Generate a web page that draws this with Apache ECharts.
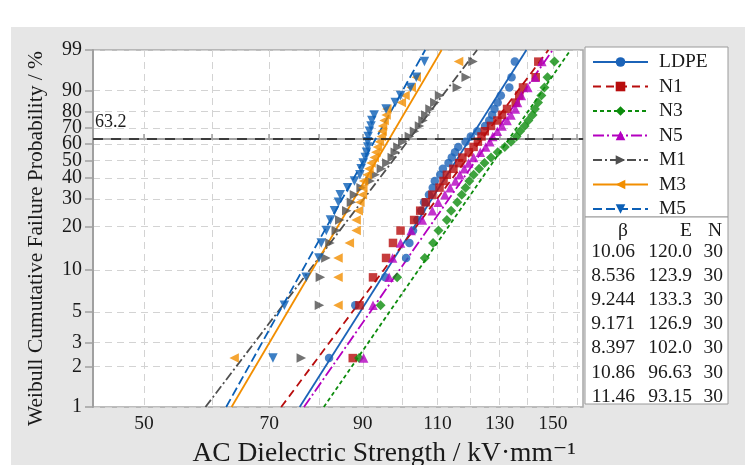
<!DOCTYPE html>
<html>
<head>
<meta charset="utf-8">
<script src="https://cdn.jsdelivr.net/npm/echarts@6/dist/echarts.min.js"></script>
<style>
  html, body { margin: 0; padding: 0; background: #fff; }
  #main { width: 745px; height: 465px; }
</style>
</head>
<body>
<div id="main"></div>
<script>
// 数据  (kV/mm, 读图估计)
var names = ['LDPE', 'N1', 'N3', 'N5', 'M1', 'M3', 'M5'];
// 中位秩  失效概率 %
var rankPct = [2.30, 5.59, 8.88, 12.17, 15.46, 18.75, 22.04, 25.33, 28.62, 31.91,
               35.20, 38.49, 41.78, 45.07, 48.36, 51.64, 54.93, 58.22, 61.51, 64.80,
               68.09, 71.38, 74.67, 77.96, 81.25, 84.54, 87.83, 91.12, 94.41, 97.70];
var ldpe = [82.2, 88.2, 95.6, 101.1, 102.0, 103.0, 104.2, 105.3, 106.1, 107.5,
            108.6, 109.2, 110.8, 111.6, 113.3, 114.3, 115.3, 116.3, 118.6, 120.3,
            122.4, 125.0, 126.4, 127.4, 128.2, 129.3, 130.4, 133.4, 134.2, 135.4];
var n1 = [87.6, 89.2, 92.5, 95.8, 97.6, 99.6, 103.3, 105.0, 106.6, 108.5,
          110.6, 111.8, 112.8, 114.8, 116.6, 117.6, 119.6, 121.2, 122.6, 123.8,
          124.9, 127.0, 129.2, 130.8, 132.6, 135.7, 137.0, 138.4, 143.2, 144.2];
var n3 = [89.1, 94.4, 98.7, 106.3, 108.7, 110.3, 112.8, 114.1, 116.0, 117.4,
          118.6, 119.8, 121.2, 123.0, 124.8, 127.0, 129.3, 131.8, 134.0, 136.0,
          137.3, 139.0, 140.4, 142.0, 142.9, 144.1, 145.4, 146.6, 147.8, 150.6];
var n5 = [90.2, 92.5, 96.6, 97.5, 99.6, 102.5, 105.6, 108.5, 110.2, 112.2,
          113.8, 115.4, 116.8, 118.2, 119.6, 121.2, 123.4, 125.2, 126.6, 127.6,
          129.2, 130.8, 132.6, 134.0, 135.6, 136.4, 137.8, 140.2, 143.0, 145.6];
var m1 = [76.3, 80.1, 80.3, 81.5, 82.4, 83.8, 84.6, 86.2, 87.3, 88.0,
          89.6, 91.8, 93.0, 94.6, 96.0, 97.4, 98.2, 98.9, 100.2, 102.0,
          103.4, 104.8, 105.8, 106.6, 107.8, 109.2, 110.6, 116.0, 118.8, 121.0];
var m3 = [63.7, 84.2, 84.2, 84.2, 86.8, 88.4, 88.4, 88.9, 89.3, 89.9,
          90.0, 90.2, 91.1, 91.5, 92.0, 92.8, 93.2, 93.6, 94.1, 94.6,
          94.8, 94.9, 95.3, 95.8, 96.0, 99.8, 100.8, 102.5, 103.9, 116.4];
var m5 = [70.7, 72.9, 77.3, 80.0, 80.5, 81.6, 82.5, 83.4, 84.3, 84.7,
          86.4, 88.0, 89.3, 89.6, 90.1, 90.6, 90.9, 91.2, 91.2, 91.3,
          91.6, 92.0, 92.2, 92.8, 95.8, 98.2, 99.6, 102.3, 103.9, 106.2];
// 拟合参数  表格
var betas = [10.06, 8.536, 9.244, 9.171, 8.397, 10.86, 11.46];
var etas = [120.0, 123.9, 133.3, 126.9, 102.0, 96.63, 93.15];
var counts = [30, 30, 30, 30, 30, 30, 30];
// 刻度
var yTickPct = [1, 2, 3, 5, 10, 20, 30, 40, 50, 60, 70, 80, 90, 99];
var xLabelVals = [50, 70, 90, 110, 130, 150];
var xTickVals = [50, 60, 70, 80, 90, 100, 110, 120, 130, 140, 150, 160];
var refPct = 63.2;

var points = [ldpe, n1, n3, n5, m1, m3, m5];
var colors = ['#1b63b8', '#b80d0d', '#0c8c0c', '#b400c0', '#4f4f4f', '#f28e00', '#0b5fb6'];
var dashes = ['solid', [8, 5], [4, 3], [11, 3, 2, 3], [9, 3, 2, 3], 'solid', [9, 4]];
var symbols = ['circle', 'rect', 'diamond', 'triangle',
               'path://M0,0L10,5L0,10Z', 'path://M10,0L0,5L10,10Z', 'path://M0,0L10,0L5,9Z'];
var sizes = [8.5, 8.5, 10, 9.5, 9.5, 9.5, 9.5];

var FONT = "'Liberation Serif', 'DejaVu Serif', serif";
// Weibull 纵坐标变换
function wy(p) { return Math.log(-Math.log(1 - p / 100)); }
var yMin = wy(1), yMax = wy(99);
var yTicks = yTickPct.map(wy);

var series = [];
// 拟合直线
names.forEach(function (n, i) {
    var s = {
        name: n,
        type: 'line',
        symbol: symbols[i],
        showSymbol: false,
        color: colors[i],
        lineStyle: { color: colors[i], width: 1.8, type: dashes[i] },
        data: [
            [etas[i] * Math.exp(yMin / betas[i]), yMin],
            [etas[i] * Math.exp(yMax / betas[i]), yMax]
        ],
        z: 3
    };
    if (i === 0) {
        s.markLine = {
            silent: true,
            symbol: 'none',
            lineStyle: { color: '#1a1a1a', type: [10, 8], width: 1.7 },
            label: {
                show: true, position: 'insideStartTop', formatter: String(refPct),
                fontFamily: FONT, fontSize: 18, color: '#1a1a1a', distance: [2, 8]
            },
            data: [{ yAxis: wy(refPct) }]
        };
    }
    series.push(s);
});
// 数据点
names.forEach(function (n, i) {
    series.push({
        name: n,
        type: 'scatter',
        symbol: symbols[i],
        symbolSize: sizes[i],
        itemStyle: { color: colors[i] },
        data: points[i].map(function (x, k) { return [x, wy(rankPct[k])]; }),
        z: 4
    });
});

// 右下  参数表
var table = [];
var rowY0 = 251.5, rowH = 24.2;
[['β', 628], ['E', 692], ['N', 722]].forEach(function (h) {
    table.push({ type: 'text', z: 5, style: { text: h[0], x: h[1], y: 231, align: 'right', verticalAlign: 'middle',
        fontFamily: FONT, fontSize: 19.5, fill: '#1a1a1a' } });
});
betas.forEach(function (b, i) {
    var y = rowY0 + i * rowH;
    [[b.toPrecision(4), 635], [etas[i].toPrecision(4), 692], [String(counts[i]), 723]].forEach(function (c) {
        table.push({ type: 'text', z: 5, style: { text: c[0], x: c[1], y: y, align: 'right', verticalAlign: 'middle',
            fontFamily: FONT, fontSize: 19.5, fill: '#1a1a1a' } });
    });
});

var option = {
    backgroundColor: '#fff',
    animation: false,
    grid: {
        left: 93, right: 162, top: 50, bottom: 58,
        outerBoundsMode: 'none',
        containLabel: false,
        show: true, backgroundColor: '#fff', borderColor: '#a8a8a8', borderWidth: 1.5
    },
    legend: {
        orient: 'vertical',
        left: 592, top: 52,
        padding: 0,
        z: 10,
        itemWidth: 55, itemHeight: 12, itemGap: 4.5,
        data: names,
        textStyle: { fontFamily: FONT, fontSize: 19.5, color: '#1a1a1a', lineHeight: 20, padding: [0, 0, 0, 6] }
    },
    xAxis: {
        type: 'log',
        logBase: 10,
        min: 43.6,
        max: 162.6,
        name: 'AC Dielectric Strength / kV·mm⁻¹',
        nameLocation: 'middle',
        nameGap: 33,
        nameTextStyle: { fontFamily: FONT, fontSize: 27.5, color: '#1a1a1a', padding: [0, 0, 0, 92] },
        axisLine: { show: true, lineStyle: { color: '#a0a0a0', width: 2 } },
        axisTick: { show: true, inside: true, length: 5, customValues: xTickVals, lineStyle: { color: '#a0a0a0', width: 1.5 } },
        axisLabel: { customValues: xLabelVals, fontFamily: FONT, fontSize: 19.5, color: '#1a1a1a', margin: 7 },
        splitLine: { show: true, lineStyle: { color: '#d3d3d3', type: [7, 5], width: 1 } },
        minorTick: { show: false },
        minorSplitLine: { show: false }
    },
    yAxis: {
        type: 'value',
        min: yMin,
        max: yMax,
        name: 'Weibull Cumutative Failure Probability / %',
        nameLocation: 'middle',
        nameGap: 46,
        nameTextStyle: { fontFamily: FONT, fontSize: 21.5, color: '#1a1a1a', padding: [0, 20, 0, 0] },
        axisLine: { show: true, lineStyle: { color: '#a0a0a0', width: 2 } },
        axisTick: { show: true, length: 8, customValues: yTicks, lineStyle: { color: '#a0a0a0', width: 1.5 } },
        axisLabel: {
            customValues: yTicks,
            fontFamily: FONT, fontSize: 20, color: '#1a1a1a', margin: 11,
            formatter: function (v) { return Math.round((1 - Math.exp(-Math.exp(v))) * 100); }
        },
        splitLine: { show: true, lineStyle: { color: '#d3d3d3', type: [7, 5], width: 1 } }
    },
    graphic: [
        { type: 'rect', z: -100, shape: { x: 11, y: 27, width: 734, height: 438 }, style: { fill: '#e6e6e6' } },
        { type: 'rect', z: 1, shape: { x: 585, y: 47, width: 143, height: 170 }, style: { fill: '#fff', stroke: '#9a9a9a', lineWidth: 1 } },
        { type: 'rect', z: 1, shape: { x: 585, y: 217, width: 143, height: 187 }, style: { fill: '#fff', stroke: '#9a9a9a', lineWidth: 1 } }
    ].concat(table),
    series: series
};

var chart = echarts.init(document.getElementById('main'));
chart.setOption(option);
</script>
</body>
</html>
